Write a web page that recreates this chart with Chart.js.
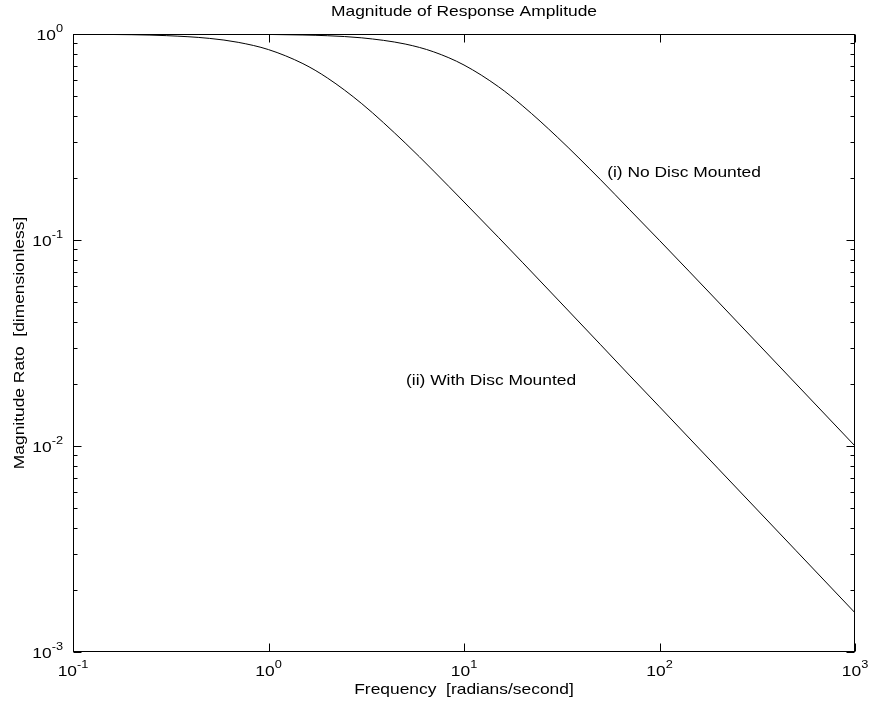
<!DOCTYPE html>
<html>
<head>
<meta charset="utf-8">
<script src="https://cdn.jsdelivr.net/npm/chart.js@4.4.0/dist/chart.umd.min.js"></script>
<style>
  html, body { margin: 0; padding: 0; background: #fff; }
  #wrap { width: 872px; height: 709px; }
</style>
</head>
<body>
<div id="wrap"><canvas id="chart" width="872" height="709"></canvas></div>
<script>
// --- Data ---
const freq = [0.1, 0.2, 0.3, 0.5, 0.7, 1, 1.5, 2, 3, 5, 7, 10, 15, 20, 30, 50, 70, 100, 200, 500, 1000];
const noDisc = [1.0, 1.0, 1.0, 0.999, 0.998, 0.995, 0.989, 0.981, 0.958, 0.894, 0.819, 0.707, 0.555, 0.447, 0.316, 0.196, 0.141, 0.0995, 0.05, 0.02, 0.01];
const withDisc = [0.998, 0.992, 0.982, 0.952, 0.911, 0.84, 0.718, 0.612, 0.459, 0.296, 0.216, 0.153, 0.103, 0.0775, 0.0517, 0.031, 0.0221, 0.0155, 0.00775, 0.0031, 0.00155];

const xMajor = [0.1, 1, 10, 100, 1000];
const xMajorLabels = [['10', '-1'], ['10', '0'], ['10', '1'], ['10', '2'], ['10', '3']];
const yMajor = [0.001, 0.01, 0.1, 1];
const yMajorLabels = [['10', '-3'], ['10', '-2'], ['10', '-1'], ['10', '0']];
const yMinor = [0.002, 0.003, 0.004, 0.005, 0.006, 0.007, 0.008, 0.009,
                0.02, 0.03, 0.04, 0.05, 0.06, 0.07, 0.08, 0.09,
                0.2, 0.3, 0.4, 0.5, 0.6, 0.7, 0.8, 0.9];

const chartTitle = 'Magnitude of Response Amplitude';
const xTitle = 'Frequency  [radians/second]';
const yTitle = 'Magnitude Rato  [dimensionless]';
const curveNotes = ['(i) No Disc Mounted', '(ii) With Disc Mounted'];
const noteX = [54, 5.05];
const noteY = [0.2115, 0.0207];

const FONT = 'Liberation Sans, Arial, sans-serif';
const big = '15px ' + FONT;
const small = '11px ' + FONT;
const SX = 1.16; // text in the original is a bit wide

// draw text squeezed/stretched along its own baseline
function putText(ctx, text, x, y, font, align, rot) {
  ctx.save();
  ctx.translate(x, y);
  if (rot) ctx.rotate(rot);
  ctx.scale(SX, 1);
  ctx.font = font;
  ctx.textAlign = align;
  ctx.textBaseline = 'middle';
  ctx.fillText(text, 0, 0);
  ctx.restore();
}

function textW(ctx, text, font) {
  ctx.font = font;
  return ctx.measureText(text).width * SX;
}

// --- Box, inward ticks, labels and notes ---
const framePlugin = {
  id: 'frame',
  afterDraw(chart) {
    const { ctx, chartArea: a, scales: { x, y } } = chart;
    const L = Math.round(a.left) + 0.5, R = Math.round(a.right) - 0.5;
    const T = Math.round(a.top) + 0.5, B = Math.round(a.bottom) - 0.5;
    ctx.save();
    ctx.strokeStyle = '#000';
    ctx.fillStyle = '#000';
    ctx.lineWidth = 1;
    ctx.strokeRect(L, T, R - L, B - T);

    ctx.beginPath();
    xMajor.forEach(v => {
      const px = Math.round(x.getPixelForValue(v)) + 0.5;
      ctx.moveTo(px, B); ctx.lineTo(px, B - 8);
      ctx.moveTo(px, T); ctx.lineTo(px, T + 8);
    });
    yMajor.forEach(v => {
      const py = Math.round(y.getPixelForValue(v)) + 0.5;
      ctx.moveTo(L, py); ctx.lineTo(L + 8, py);
      ctx.moveTo(R, py); ctx.lineTo(R - 8, py);
    });
    yMinor.forEach(v => {
      const py = Math.round(y.getPixelForValue(v)) + 0.5;
      ctx.moveTo(L, py); ctx.lineTo(L + 4, py);
      ctx.moveTo(R, py); ctx.lineTo(R - 4, py);
    });
    ctx.stroke();

    // x tick labels, centred under tick
    xMajorLabels.forEach((lab, i) => {
      const w1 = textW(ctx, lab[0], big), w2 = textW(ctx, lab[1], small);
      const start = x.getPixelForValue(xMajor[i]) - (w1 + w2) / 2;
      putText(ctx, lab[0], start, 672, big, 'left');
      putText(ctx, lab[1], start + w1, 665, small, 'left');
    });

    // y tick labels, right aligned
    yMajorLabels.forEach((lab, i) => {
      const py = y.getPixelForValue(yMajor[i]);
      const w1 = textW(ctx, lab[0], big), w2 = textW(ctx, lab[1], small);
      const end = 63;
      putText(ctx, lab[0], end - w2 - w1, py + 2, big, 'left');
      putText(ctx, lab[1], end - w2, py - 5, small, 'left');
    });

    // titles
    const cx = (a.left + a.right) / 2, cy = (a.top + a.bottom) / 2;
    putText(ctx, chartTitle, cx, 12, big, 'center');
    putText(ctx, xTitle, cx, 690, big, 'center');
    putText(ctx, yTitle, 20, cy, big, 'center', -Math.PI / 2);

    // curve notes
    curveNotes.forEach((t, i) => {
      putText(ctx, t, x.getPixelForValue(noteX[i]), y.getPixelForValue(noteY[i]), big, 'left');
    });
    ctx.restore();
  }
};

new Chart(document.getElementById('chart'), {
  type: 'line',
  data: {
    labels: freq,
    datasets: [
      { label: 'No Disc Mounted', data: freq.map((f, i) => ({ x: f, y: noDisc[i] })) },
      { label: 'With Disc Mounted', data: freq.map((f, i) => ({ x: f, y: withDisc[i] })) }
    ].map(ds => Object.assign(ds, {
      borderColor: '#000', borderWidth: 1, pointRadius: 0,
      cubicInterpolationMode: 'monotone', fill: false
    }))
  },
  options: {
    responsive: false,
    animation: false,
    layout: { padding: { top: 34, right: 17, left: 0, bottom: 0 } },
    plugins: {
      legend: { display: false },
      tooltip: { enabled: false },
      title: { display: false }
    },
    scales: {
      x: {
        type: 'logarithmic',
        min: 0.1, max: 1000,
        grid: { display: false, drawTicks: false },
        border: { display: false },
        ticks: { display: false },
        afterFit: s => { s.height = 57; }
      },
      y: {
        type: 'logarithmic',
        min: 0.001, max: 1,
        grid: { display: false, drawTicks: false },
        border: { display: false },
        ticks: { display: false },
        afterFit: s => { s.width = 73; }
      }
    }
  },
  plugins: [framePlugin]
});
</script>
</body>
</html>
